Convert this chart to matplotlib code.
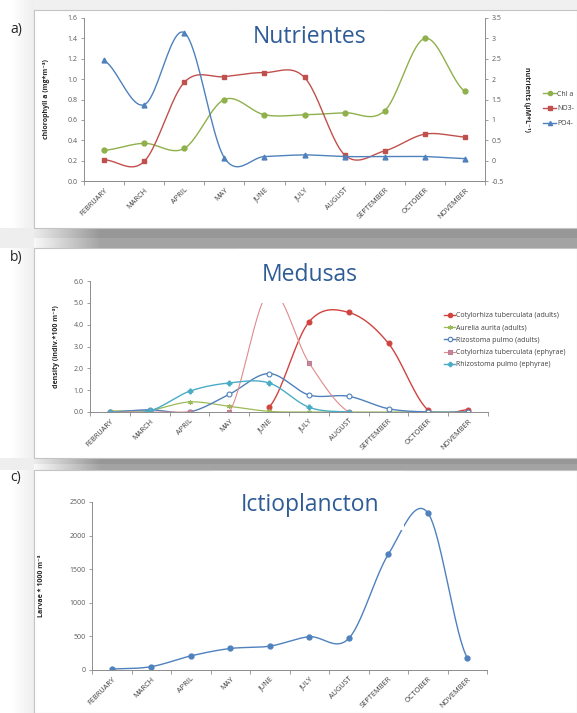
import numpy as np
import matplotlib.pyplot as plt
from matplotlib.patches import Rectangle

plt.rcParams['font.family'] = ['Open Sans', 'DejaVu Sans']

months = ['FEBRUARY', 'MARCH', 'APRIL', 'MAY', 'JUNE', 'JULY', 'AUGUST',
          'SEPTEMBER', 'OCTOBER', 'NOVEMBER']

# a) nutrients
chl_a = [0.30, 0.37, 0.32, 0.80, 0.65, 0.65, 0.67, 0.69, 1.40, 0.88]
no3 = [0.02, -0.02, 1.92, 2.06, 2.16, 2.04, 0.14, 0.24, 0.65, 0.58]
po4 = [2.46, 1.37, 3.14, 0.07, 0.10, 0.14, 0.10, 0.10, 0.10, 0.05]

# b) jellyfish
nan = np.nan
cot_adults = [nan, nan, nan, nan, 0.22, 4.12, 4.56, 3.14, 0.08, 0.10]
aurelia = [0.05, 0.08, 0.46, 0.26, 0.03, 0.0, 0.0, 0.0, 0.0, 0.0]
rhizo_adults = [0.0, 0.10, 0.0, 0.81, 1.76, 0.78, 0.72, 0.15, 0.0, 0.0]
cot_ephyrae = [0.0, 0.0, 0.0, 0.0, 5.5, 2.26, 0.0, nan, nan, nan]
rhizo_ephyrae = [0.0, 0.05, 0.95, 1.33, 1.33, 0.22, 0.0, nan, nan, nan]

# c) fish larvae
larvae = [15, 50, 210, 320, 355, 495, 470, 1720, 2340, 180]

W, H = 577, 713
fig = plt.figure(figsize=(W / 100, H / 100), dpi=100)


def px_axes(l, t, r, b, **kw):
    return fig.add_axes([l / W, 1 - b / H, (r - l) / W, (b - t) / H], **kw)


def smooth(y, n=24):
    # excel style smoothed line (catmull-rom), broken at gaps
    y = np.asarray(y, float)
    xs, ys = [], []
    idx = np.arange(len(y))
    good = ~np.isnan(y)
    segs = np.split(idx[good], np.where(np.diff(idx[good]) > 1)[0] + 1)
    for s in segs:
        v = y[s]
        x0 = s.astype(float)
        for i in range(len(v) - 1):
            p0 = v[max(i - 1, 0)]
            p3 = v[min(i + 2, len(v) - 1)]
            c1 = v[i] + (v[i + 1] - p0) / 6
            c2 = v[i + 1] - (p3 - v[i]) / 6
            t = np.linspace(0, 1, n)
            by = ((1 - t) ** 3 * v[i] + 3 * (1 - t) ** 2 * t * c1
                  + 3 * (1 - t) * t ** 2 * c2 + t ** 3 * v[i + 1])
            xs.extend(x0[i] + t)
            ys.extend(by)
        xs.append(nan)
        ys.append(nan)
    return np.array(xs), np.array(ys)


# ---- background (screenshot look) ----
bg = np.ones((H, W))
bg[:10, :] = 0.94
xx = np.arange(W)
strip = 1 - 0.07 * np.clip((xx - 10) / 24, 0, 1)
bg[:, :34] = strip[:34]
ramp = 0.59 + 0.33 * np.clip((100 - xx) / 66, 0, 1)
for t0, t1 in [(228, 248), (458, 470)]:
    mid = (t0 + t1) // 2
    bg[t0:mid, 34:] = ramp[34:]
    bg[mid:t1, 34:] = ramp[34:] + 0.05
    bg[t0:t1, :34] = 0.93
bgax = fig.add_axes([0, 0, 1, 1], zorder=0)
bgax.imshow(bg, cmap='gray', vmin=0, vmax=1, extent=(0, W, H, 0),
            aspect='auto', interpolation='nearest')
for top, bot in [(10, 228), (248, 458), (470, 713)]:
    bgax.add_patch(Rectangle((34, top), W - 34, bot - top, facecolor='white',
                             edgecolor='#c4c4c4', lw=0.8))
bgax.set_xlim(0, W)
bgax.set_ylim(H, 0)
bgax.axis('off')

for lab, y in [('a)', 29), ('b)', 258), ('c)', 477)]:
    bgax.text(10, y, lab, fontsize=10, color='#262626', va='center',
              ha='left')

tick_col = '#595959'
spine_col = '#8c8c8c'
x = np.arange(len(months))


def style(ax):
    for s in ['top', 'right']:
        ax.spines[s].set_visible(False)
    for s in ['left', 'bottom']:
        ax.spines[s].set_color(spine_col)
        ax.spines[s].set_linewidth(0.7)
    ax.set_xlim(-0.5, len(months) - 0.5)
    ax.set_xticks(np.arange(-0.5, len(months)))
    ax.set_xticklabels([])
    ax.set_xticks(x, minor=True)
    ax.set_xticklabels(months, minor=True, rotation=45, ha='right',
                       rotation_mode='anchor', fontsize=5.3, color='#3a3a3a')
    ax.tick_params(axis='x', which='major', length=3, width=0.6,
                   color=spine_col, direction='out')
    ax.tick_params(axis='x', which='minor', length=0, pad=4)
    ax.tick_params(axis='y', length=2.5, width=0.6, color=spine_col,
                   labelsize=5, labelcolor=tick_col, pad=2)
    ax.patch.set_visible(False)


# ---- a) Nutrientes ----
axa = px_axes(84, 18, 485, 181, zorder=1)
style(axa)
axa.set_ylim(0, 1.6)
axa.set_yticks(np.arange(0, 1.61, 0.2))
axa.set_yticklabels(['%.1f' % v for v in np.arange(0, 1.61, 0.2)])
axa.set_ylabel('chlorophyll a (mg*m⁻³)', fontsize=5, fontweight='bold',
               color='#262626')
axa.yaxis.set_label_coords(-0.085, 0.5)

axr = axa.twinx()
axr.set_zorder(1)
axr.patch.set_visible(False)
for s in ['top', 'left', 'bottom']:
    axr.spines[s].set_visible(False)
axr.spines['right'].set_color(spine_col)
axr.spines['right'].set_linewidth(0.7)
axr.set_ylim(-0.5, 3.5)
rt = np.arange(-0.5, 3.51, 0.5)
axr.set_yticks(rt)
axr.set_yticklabels(['%g' % v for v in rt])
axr.tick_params(axis='y', length=2.5, width=0.6, color=spine_col,
                labelsize=5, labelcolor=tick_col, pad=2)
axr.set_ylabel('nutrients (µM*L⁻¹)', fontsize=5, fontweight='bold',
               color='#262626', rotation=270, va='bottom')
axr.yaxis.set_label_coords(1.095, 0.5)

green, red, blue = '#8FB04A', '#C0504D', '#4F81BD'
axa.plot(*smooth(chl_a), color=green, lw=1)
axa.plot(x, chl_a, 'o', color=green, ms=3.5)
axr.plot(*smooth(no3), color=red, lw=1)
axr.plot(x, no3, 's', color=red, ms=3.5)
axr.plot(*smooth(po4), color=blue, lw=1)
axr.plot(x, po4, '^', color=blue, ms=3.5)
la = [axa.plot([], [], '-o', color=green, ms=3, lw=1)[0],
      axa.plot([], [], '-s', color=red, ms=3, lw=1)[0],
      axa.plot([], [], '-^', color=blue, ms=3, lw=1)[0]]
fig.legend(la, ['Chl a', 'NO3-', 'PO4-'], loc='center left',
           bbox_to_anchor=(540 / W, 1 - 109 / H), frameon=False, fontsize=5,
           handlelength=1.8, handletextpad=0.2, labelspacing=1.1,
           labelcolor='#404040', borderpad=0)

# ---- b) Medusas ----
axb = px_axes(90, 281, 488, 412, zorder=1)
style(axb)
axb.set_ylim(0, 6)
axb.set_yticks(np.arange(0, 7))
axb.set_yticklabels(['%.1f' % v for v in range(7)])
axb.set_ylabel('density (indiv.*100 m⁻³)', fontsize=5, fontweight='bold',
               color='#262626')
axb.yaxis.set_label_coords(-0.075, 0.5)

pink, cyan = '#E08A8A', '#4BACC6'
series_b = [
    (cot_adults, dict(color='#D0433F', marker='o', mfc='#D0433F', lw=1)),
    (aurelia, dict(color='#9BBB59', marker=(6, 2, 0), mfc='#9BBB59', lw=0.9)),
    (rhizo_adults, dict(color=blue, marker='o', mfc='white', lw=1)),
    (cot_ephyrae, dict(color=pink, marker='s', mfc='#B98AA9', mec='#C97A8A',
                       lw=0.8)),
    (rhizo_ephyrae, dict(color=cyan, marker='P', mfc=cyan, lw=1)),
]
names_b = ['Cotylorhiza tuberculata (adults)', 'Aurelia aurita (adults)',
           'Rizostoma pulmo (adults)', 'Cotylorhiza tuberculata (ephyrae)',
           'Rhizostoma pulmo (ephyrae)']
lb = []
for vals, kw in series_b:
    kw = dict(kw)
    mk = kw.pop('marker')
    mfc = kw.pop('mfc')
    mec = kw.pop('mec', kw['color'])
    axb.plot(*smooth(vals), color=kw['color'], lw=kw['lw'])
    axb.plot(x, vals, ls='none', marker=mk, mfc=mfc, mec=mec, ms=3.5,
             mew=0.8)
    lb.append(axb.plot([], [], color=kw['color'], lw=kw['lw'], marker=mk,
                       mfc=mfc, mec=mec, ms=3.2, mew=0.8)[0])
fig.legend(lb, names_b, loc='upper left',
           bbox_to_anchor=(441 / W, 1 - 309 / H), frameon=False, fontsize=5,
           handlelength=1.5, handletextpad=0.2, labelspacing=0.75,
           labelcolor='#404040', borderpad=0)

# ---- c) Ictioplancton ----
axc = px_axes(92, 502, 487, 670, zorder=1)
style(axc)
axc.set_ylim(0, 2500)
axc.set_yticks(np.arange(0, 2501, 500))
axc.set_ylabel('Larvae * 1000 m⁻³', fontsize=5, fontweight='bold',
               color='#262626')
axc.yaxis.set_label_coords(-0.12, 0.5)
axc.plot(*smooth(larvae), color=blue, lw=1)
axc.plot(x, larvae, 'o', color=blue, ms=3.5)

# ---- title boxes on top ----
top = fig.add_axes([0, 0, 1, 1], zorder=5)
top.patch.set_visible(False)
top.set_xlim(0, W)
top.set_ylim(H, 0)
top.axis('off')
title_col = '#2F5C97'
for txt, y, box in [('Nutrientes', 37, (238, 11, 383, 56)),
                    ('Medusas', 275, (237, 249, 380, 303)),
                    ('Ictioplancton', 505, (212, 471, 404, 530))]:
    top.add_patch(Rectangle((box[0], box[1]), box[2] - box[0],
                            box[3] - box[1], facecolor='white',
                            edgecolor='none'))
    top.text(310, y, txt, fontsize=16.5, color=title_col, ha='center',
             va='center')

fig.savefig('out.png', dpi=100)
